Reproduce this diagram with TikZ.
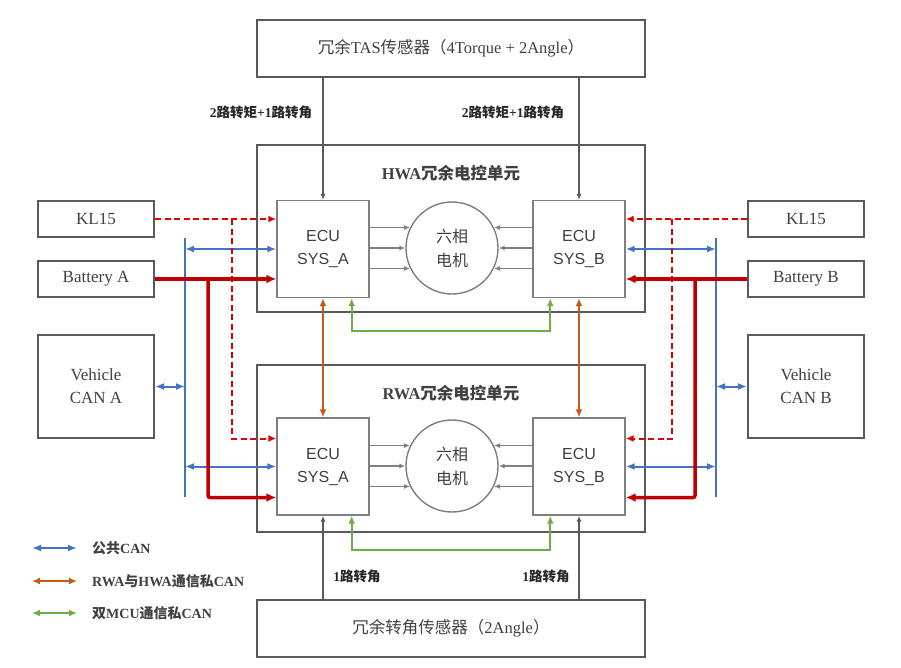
\documentclass[tikz,border=0pt]{standalone}
\usepackage{fontspec}
\setmainfont{Liberation Serif}
\setsansfont{Liberation Sans}
\newfontfamily\zhfont{Noto Sans CJK SC}
\newcommand{\zh}[1]{{\zhfont #1}}
\usepackage{tikz}
\usetikzlibrary{arrows.meta}
\definecolor{BoxGray}{HTML}{595959}
\definecolor{EcuGray}{HTML}{7F7F7F}
\definecolor{TextGray}{HTML}{404040}
\definecolor{CanBlue}{HTML}{4472C4}
\definecolor{PwrRed}{HTML}{C00000}
\definecolor{KlRed}{HTML}{E00000}
\definecolor{PrivOrange}{HTML}{C55A11}
\definecolor{McuGreen}{HTML}{70AD47}

\begin{document}
\begin{tikzpicture}[x=1pt, y=-1pt,
    font=\fontsize{16.5}{20}\selectfont,
    outer/.style={draw=BoxGray, line width=2pt, minimum width=388pt, align=center, text=TextGray},
    sidebox/.style={draw=BoxGray, line width=2pt, minimum width=116pt, align=center, text=TextGray, font=\fontsize{17}{23}\selectfont},
    ecu/.style={draw=EcuGray, line width=1.4pt, minimum width=92pt, minimum height=97pt, align=center, text=TextGray, font=\sffamily\fontsize{16}{23}\selectfont},
    motor/.style={circle, draw=EcuGray, line width=1.4pt, minimum size=92pt, inner sep=0pt, align=center, text=TextGray, font=\fontsize{16}{24}\selectfont},
    title/.style={text=TextGray, font=\bfseries\fontsize{16.5}{20}\selectfont},
    lbl/.style={text=black!85, font=\bfseries\fontsize{13.5}{16}\selectfont},
    legtxt/.style={anchor=west, inner sep=0pt, text=TextGray, font=\bfseries\fontsize{14}{17}\selectfont},
    sig/.style={-{Latex[length=6pt,width=5pt]}, draw=BoxGray, line width=2pt},
    phase/.style={-{Latex[length=6pt,width=5pt]}, draw=EcuGray, line width=1.4pt},
    bus/.style={draw=CanBlue, line width=2pt},
    can/.style={{Latex[length=9pt,width=7pt]}-{Latex[length=9pt,width=7pt]}, draw=CanBlue, line width=2pt},
    priv/.style={{Latex[length=8pt,width=7pt]}-{Latex[length=8pt,width=7pt]}, draw=PrivOrange, line width=2pt},
    mcu/.style={{Latex[length=8pt,width=7pt]}-{Latex[length=8pt,width=7pt]}, draw=McuGreen, line width=2pt},
    kl/.style={-{Latex[length=8pt,width=7pt]}, draw=KlRed, line width=2pt, dash pattern=on 6pt off 3.5pt},
    pwr/.style={-{Latex[length=10pt,width=9pt]}, draw=PwrRed, line width=3.5pt}
]
\useasboundingbox (0,0) rectangle (901,667);

\node[outer, minimum height=57pt] (tas) at (451,48.5) {\zh{冗余}TAS\zh{传感器（}4Torque + 2Angle\zh{）}};
\node[outer, minimum height=57pt] (ang) at (451,628.5) {\zh{冗余转角传感器（}2Angle\zh{）}};

\node[outer, minimum height=167pt] (hwa) at (451,228.5) {};
\node[title] (hwaT) at (451,173) {HWA\zh{冗余电控单元}};
\node[ecu] (hA) at (323,249) {ECU\\SYS\_A};
\node[ecu] (hB) at (579,249) {ECU\\SYS\_B};
\node[motor] (hM) at (452,248) {\zh{六相}\\\zh{电机}};

\node[outer, minimum height=167pt] (rwa) at (451,448.5) {};
\node[title] (rwaT) at (451,393) {RWA\zh{冗余电控单元}};
\node[ecu] (rA) at (323,466.5) {ECU\\SYS\_A};
\node[ecu] (rB) at (579,466.5) {ECU\\SYS\_B};
\node[motor] (rM) at (452,466) {\zh{六相}\\\zh{电机}};

\node[sidebox, minimum height=36pt] (kl15A) at (96,219) {KL15};
\node[sidebox, minimum height=36pt] (battA) at (96,279) {Battery A};
\node[sidebox, minimum height=103pt] (vcanA) at (96,386.5) {Vehicle\\CAN A};
\node[sidebox, minimum height=36pt] (kl15B) at (806,219) {KL15};
\node[sidebox, minimum height=36pt] (battB) at (806,279) {Battery B};
\node[sidebox, minimum height=103pt] (vcanB) at (806,386.5) {Vehicle\\CAN B};

\coordinate (canAt) at (185,238);
\coordinate (canAb) at (185,497);
\coordinate (klA) at (232,219);
\coordinate (pwrA) at (208,279);
\coordinate (canBt) at (716,238);
\coordinate (canBb) at (716,497);
\coordinate (klB) at (672,219);
\coordinate (pwrB) at (695,279);

\draw[sig] (tas.south -| hA) -- (hA.north);
\draw[sig] (tas.south -| hB) -- (hB.north);
\node[lbl] (tqA) at (261,112) {2\zh{路转矩}+1\zh{路转角}};
\node[lbl] (tqB) at (513,112) {2\zh{路转矩}+1\zh{路转角}};
\draw[sig] (ang.north -| rA) -- (rA.south);
\draw[sig] (ang.north -| rB) -- (rB.south);
\node[lbl] (agA) at (357,576) {1\zh{路转角}};
\node[lbl] (agB) at (546,576) {1\zh{路转角}};

\foreach \m/\a/\b in {hM/hA/hB, rM/rA/rB} {
  \draw[phase] (\a.east |- \m.154) -- (\m.154);
  \draw[phase] (\a.east |- \m) -- (\m.west);
  \draw[phase] (\a.east |- \m.206) -- (\m.206);
  \draw[phase] (\b.west |- \m.26) -- (\m.26);
  \draw[phase] (\b.west |- \m) -- (\m.east);
  \draw[phase] (\b.west |- \m.-26) -- (\m.-26);
}

\draw[bus] (canAt) -- (canAb);
\draw[can] (canAt |- hA) -- (hA.west);
\draw[can] (canAt |- rA) -- (rA.west);
\draw[can] (vcanA) -- (vcanA.east -| canAt);
\draw[bus] (canBt) -- (canBb);
\draw[can] (canBt |- hB) -- (hB.east);
\draw[can] (canBt |- rB) -- (rB.east);
\draw[can] (vcanB) -- (vcanB.west -| canBt);

\draw[kl] (kl15A) -- (hA.west |- kl15A);
\draw[kl] (klA) |- ([yshift=28pt]rA.west);
\draw[kl] (kl15B) -- (hB.east |- kl15B);
\draw[kl] (klB) |- ([yshift=28pt]rB.east);

\draw[pwr] (battA) -- (hA.west |- battA);
\draw[pwr, rounded corners=2pt] (pwrA) |- ([yshift=-31pt]rA.west);
\draw[pwr] (battB) -- (hB.east |- battB);
\draw[pwr, rounded corners=2pt] (pwrB) |- ([yshift=-31pt]rB.east);

\draw[priv] (hA) -- (rA);
\draw[priv] (hB) -- (rB);
\draw[mcu] ([xshift=-18pt]hA.south east) -- ++(0,33) -| ([xshift=18pt]hB.south west);
\draw[mcu] ([xshift=-18pt]rA.south east) -- ++(0,34) -| ([xshift=18pt]rB.south west);

\node[legtxt] (lgPub) at (92,548) {\zh{公共}CAN};
\node[legtxt] (lgPriv) at (92,581) {RWA\zh{与}HWA\zh{通信私}CAN};
\node[legtxt] (lgMcu) at (92,613) {\zh{双}MCU\zh{通信私}CAN};
\draw[can] ([xshift=-60pt]lgPub.west) -- ([xshift=-15pt]lgPub.west);
\draw[priv] ([xshift=-60pt]lgPriv.west) -- ([xshift=-15pt]lgPriv.west);
\draw[mcu] ([xshift=-60pt]lgMcu.west) -- ([xshift=-15pt]lgMcu.west);
\end{tikzpicture}
\end{document}
